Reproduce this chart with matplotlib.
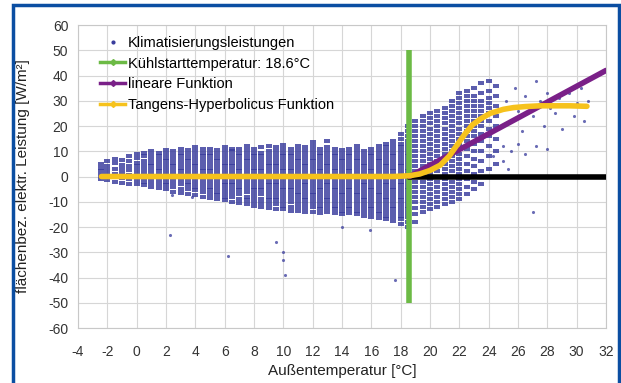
import numpy as np
import matplotlib
matplotlib.use('Agg')
import matplotlib.pyplot as plt
from matplotlib.lines import Line2D
from matplotlib.patches import Rectangle

plt.rcParams['font.family'] = ['Liberation Sans', 'DejaVu Sans']
plt.rcParams['axes.unicode_minus'] = False

# scatter columns (outdoor temperature) and the power values read in each column
col_x = [-2.4, -2.0, -1.5, -1.0, -0.5, 0.0, 0.5, 1.0, 1.5, 2.0, 2.5, 3.0, 3.5, 4.0, 4.5,
         5.0, 5.5, 6.0, 6.5, 7.0, 7.5, 8.0, 8.5, 9.0, 9.5, 10.0, 10.5, 11.0, 11.5, 12.0,
         12.5, 13.0, 13.5, 14.0, 14.5, 15.0, 15.5, 16.0, 16.5, 17.0, 17.5, 18.0, 18.5,
         19.0, 19.5, 20.0, 20.5, 21.0, 21.5, 22.0, 22.5, 23.0, 23.5, 24.0, 24.5]
col_y = [
    [0.5, 2, 3.5, 5, -1],
    [-1.5, 0.8, 2.5, 4.2, 6],
    [-2, 1, 3, 5.5, 7],
    [-2.5, -0.5, 1.5, 3, 4.5, 6.5],
    [-3, -1, 0.5, 2.5, 4, 6, 8],
    [-3, -1.5, 1, 2.5, 4, 5.5, 7.5, 9],
    [-3.5, -2, -0.5, 1.5, 3, 4.5, 6, 8, 9.5],
    [-4, -2.5, -1, 1, 2.5, 4, 5.5, 7, 8.5, 10],
    [-4.5, -3, -1.5, 0.5, 2, 3.5, 5, 6.5, 8, 9.5],
    [-5, -3.5, -2, -0.5, 1.5, 3, 4.5, 6, 7.5, 9, 10.5],
    [-6, -4, -2.5, -1, 1, 2.5, 4, 5.5, 7, 8.5, 10],
    [-6.5, -5, -3, -1.5, 0.5, 2, 3.5, 5, 6.5, 8, 9.5, 11],
    [-7, -5, -3.5, -2, -0.5, 1.5, 3, 4.5, 6, 7.5, 9, 10.5],
    [-7.5, -5.5, -4, -2.5, -1, 1, 2.5, 4, 5.5, 7, 8.5, 10, 11.5],
    [-8, -6, -4.5, -3, -1.5, 0.5, 2, 3.5, 5, 6.5, 8, 9.5, 11],
    [-8.5, -7, -5.5, -4, -2.5, -1, 0.5, 2, 3.5, 5, 6.5, 8, 9.5, 11],
    [-9, -7.5, -6, -4.5, -3, -1.5, 0, 1.5, 3, 4.5, 6, 7.5, 9, 10.5],
    [-9.5, -8, -6.5, -5, -3.5, -2, -0.5, 1, 2.5, 4, 5.5, 7, 8.5, 10, 11.5],
    [-10, -8, -6.5, -5, -3.5, -2, -0.5, 1, 2.5, 4, 5.5, 7, 8.5, 10, 11],
    [-10.5, -9, -7, -5.5, -4, -2.5, -1, 0.5, 2, 3.5, 5, 6.5, 8, 9.5, 11],
    [-11, -9.5, -8, -6, -4.5, -3, -1.5, 0, 1.5, 3, 4.5, 6, 7.5, 9, 10.5, 12],
    [-11.5, -10, -8.5, -7, -5.5, -4, -2.5, -1, 0.5, 2, 3.5, 5, 6.5, 8, 9.5, 11],
    [-12, -10.5, -9, -7, -5.5, -4, -2.5, -1, 0.5, 2, 3.5, 5, 6.5, 8, 9.5, 11.5],
    [-12.5, -11, -9.5, -8, -6.5, -5, -3.5, -2, -0.5, 1, 2.5, 4, 5.5, 7, 8.5, 10, 12],
    [-13, -11, -9.5, -8, -6.5, -5, -3.5, -2, -0.5, 1, 2.5, 4, 5.5, 7, 8.5, 10, 11.5],
    [-13, -11.5, -10, -8.5, -7, -5.5, -4, -2.5, -1, 0.5, 2, 3.5, 5, 6.5, 8, 9.5, 11, 12.5],
    [-13.5, -12, -10, -8.5, -7, -5.5, -4, -2.5, -1, 0.5, 2, 3.5, 5, 6.5, 8, 9.5, 11],
    [-13.5, -12, -10.5, -9, -7.5, -6, -4.5, -3, -1.5, 0, 1.5, 3, 4.5, 6, 7.5, 9, 10.5, 12],
    [-14, -12.5, -11, -9.5, -8, -6.5, -5, -3.5, -2, -0.5, 1, 2.5, 4, 5.5, 7, 8.5, 10, 11.5],
    [-14, -12, -10.5, -9, -7.5, -6, -4.5, -3, -1.5, 0, 1.5, 3, 4.5, 6, 7.5, 9, 10.5, 12, 13.5],
    [-14.5, -13, -11.5, -10, -8.5, -7, -5.5, -4, -2.5, -1, 0.5, 2, 3.5, 5, 6.5, 8, 9.5, 11],
    [-14, -12.5, -11, -9.5, -8, -6.5, -5, -3.5, -2, -0.5, 1, 2.5, 4, 5.5, 7, 8.5, 10, 11.5, 14],
    [-14.5, -13, -11.5, -10, -8.5, -7, -5.5, -4, -2.5, -1, 0.5, 2, 3.5, 5, 6.5, 8, 9.5, 11],
    [-15, -13.5, -12, -10.5, -9, -7.5, -6, -4.5, -3, -1.5, 0, 1.5, 3, 4.5, 6, 7.5, 9, 10.5],
    [-14.5, -13, -11.5, -10, -8.5, -7, -5.5, -4, -2.5, -1, 0.5, 2, 3.5, 5, 6.5, 8, 9.5, 11],
    [-15, -13.5, -12, -10.5, -9, -7.5, -6, -4.5, -3, -1.5, 0, 1.5, 3, 4.5, 6, 7.5, 9, 10.5, 12],
    [-15.5, -14, -12.5, -11, -9.5, -8, -6.5, -5, -3.5, -2, -0.5, 1, 2.5, 4, 5.5, 7, 8.5, 10],
    [-16, -14.5, -13, -11.5, -10, -8.5, -7, -5.5, -4, -2.5, -1, 0.5, 2, 3.5, 5, 6.5, 8, 9.5, 11],
    [-16.5, -15, -13.5, -12, -10.5, -9, -7.5, -6, -4.5, -3, -1.5, 0, 1.5, 3, 4.5, 6, 7.5, 9, 10.5, 12],
    [-17, -15.5, -14, -12.5, -11, -9.5, -8, -6.5, -5, -3.5, -2, -0.5, 1, 2.5, 4, 5.5, 7, 8.5, 10, 11.5, 13],
    [-17.5, -16, -14.5, -13, -11.5, -10, -8.5, -7, -5.5, -4, -2.5, -1, 0.5, 2, 3.5, 5, 6.5, 8, 9.5, 11, 12.5, 14],
    [-19, -17, -15.5, -14, -12.5, -11, -9.5, -8, -6.5, -5, -3.5, -2, -0.5, 1, 2.5, 4, 5.5, 7, 8.5, 10, 11.5, 13, 15, 17],
    [-20, -18, -16, -14.5, -13, -11.5, -10, -8.5, -7, -5.5, -4, -2.5, -1, 0.5, 2, 3.5, 5, 6.5, 8, 9.5, 11, 12.5, 14, 16, 18, 20],
    [-18, -15, -12.5, -10, -8, -6, -4, -2, 0, 2, 4, 6, 8, 10, 12, 14, 16, 18, 20, 22],
    [-14, -12, -10, -8, -6, -4, -2, 0, 2, 4, 6, 8, 10, 12, 14, 16, 18, 20, 22, 24],
    [-13, -11, -9, -7, -5, -3, -1, 1, 3, 5, 7, 9, 11, 13, 15, 17, 19, 21, 23, 25],
    [-12, -10, -8, -6, -4, -2, 0, 2, 4, 6, 8, 10, 12, 14, 16, 18, 20, 22, 24, 26],
    [-11, -9, -7, -5, -3, -1, 1, 3, 5, 7, 9, 11, 13, 15, 17, 19, 21, 23, 25, 27],
    [-10, -8, -6, -4, -2, 0, 2, 4, 6, 8, 10, 12, 14, 16, 18, 20, 22, 24, 26, 28, 30],
    [-9, -7, -5, -3, -1, 1, 3, 5, 7, 9, 11, 13, 15, 17, 19, 21, 23, 25, 27, 29, 31, 33],
    [-7, -4, -1, 2, 5, 8, 11, 14, 16, 18, 20, 22, 24, 26, 28, 30, 32, 34],
    [-5, -2, 1, 4, 7, 10, 13, 16, 18, 20, 22, 24, 26, 28, 30, 32, 35],
    [-3, 2, 6, 10, 14, 17, 20, 22, 24, 26, 28, 30, 33, 37],
    [3, 8, 12, 16, 19, 22, 25, 27, 29, 31, 34, 38],
    [5, 10, 15, 20, 24, 28, 32, 36],
]

# single scattered points (warm days and outliers)
extra_x = [24.3, 25.0, 25.0, 25.2, 25.3, 25.5, 25.5, 25.8, 26.0, 26.0, 26.3, 26.5, 26.5, 26.8,
           27.0, 27.2, 27.2, 27.5, 27.8, 28.0, 28.0, 28.2, 28.5, 28.8, 29.0, 29.3, 29.5,
           29.8, 30.0, 30.3, 30.5, 30.8, 27.0,
           2.3, 2.4, 3.8, 6.2, 9.5, 10.0, 10.0, 10.1, 14.0, 15.9, 17.6]
extra_y = [8, 6, 12, 30, 3, 22, 10, 35, 26, 13, 18, 32, 9, 28,
           24, 38, 12, 30, 20, 33, 11, 27, 25, 31, 19, 28, 33,
           24, 29, 35, 22, 30, -14,
           -23, -7.5, -8, -31.5, -26, -30, -33, -39, -20, -21, -41]

# model curves
start_temp = 18.6
lin_x = [18.6, 32]
lin_y = [0, 42]
zero_x = [18.6, 32]
zero_y = [0, 0]
tanh_x = [-2.4, 17.5, 18.6, 19.3, 20.0, 20.7, 21.3, 21.85, 22.4, 22.9, 23.5, 24.1,
          25.0, 25.7, 26.5, 27.5, 28.5, 29.5, 30.7]
tanh_y = [0, 0, 0.3, 1.0, 2.4, 4.5, 8, 12.5, 17, 20.5, 23, 25,
          26.6, 27.3, 27.7, 28, 28, 28, 27.8]

sx = np.concatenate([[x] * len(ys) for x, ys in zip(col_x, col_y)])
sy = np.concatenate([np.array(ys, dtype=float) for ys in col_y])

fig = plt.figure(figsize=(6.21, 3.83), dpi=100)
ax = fig.add_axes([0.1256, 0.1436, 0.8502, 0.7911])

dot_color = '#383b9c'
flat_box = [(-1, -0.85), (1, -0.85), (1, 0.85), (-1, 0.85), (-1, -0.85)]
ax.scatter(sx, sy, s=17, marker=flat_box, color=dot_color, alpha=0.82, linewidths=0,
           zorder=2)
ax.scatter(extra_x, extra_y, s=5, color=dot_color, alpha=0.75, linewidths=0, zorder=2)
ax.plot([start_temp, start_temp], [-50, 50], color='#6cba45', lw=4, zorder=3,
        solid_capstyle='butt')
ax.plot(zero_x, zero_y, color='black', lw=4, zorder=4, solid_capstyle='round')
ax.plot(lin_x, lin_y, color='#7a2088', lw=4, zorder=5, solid_capstyle='round')
ax.plot(tanh_x, tanh_y, color='#f6c21c', lw=4, zorder=6, solid_capstyle='round')

ax.set_xlim(-4, 32)
ax.set_ylim(-60, 60)
ax.set_xticks(np.arange(-4, 33, 2))
ax.set_yticks(np.arange(-60, 61, 10))
ax.grid(True, color='#d6d6d6', lw=0.8)
ax.set_axisbelow(True)
for s in ax.spines.values():
    s.set_color('#c8c8c8')
ax.tick_params(length=0, labelsize=10, colors='#333333')
ax.tick_params(axis='y', pad=7)
ax.tick_params(axis='x', pad=12)
ax.set_xlabel('Außentemperatur [°C]', fontsize=11, color='#222222')
ax.set_ylabel('flächenbez. elektr. Leistung [W/m²]', fontsize=11, color='#222222')
ax.xaxis.set_label_coords(0.5, -0.12)
ax.yaxis.set_label_coords(-0.09, 0.5)

handles = [
    Line2D([], [], ls='none', marker='o', ms=2, color=dot_color),
    Line2D([], [], color='#6cba45', lw=2.5, marker='D', ms=3),
    Line2D([], [], color='#7a2088', lw=2.5, marker='D', ms=3),
    Line2D([], [], color='#f6c21c', lw=2.5, marker='D', ms=3),
]
labels = ['Klimatisierungsleistungen', 'Kühlstarttemperatur: 18.6°C',
          'lineare Funktion', 'Tangens-Hyperbolicus Funktion']
ax.legend(handles, labels, loc='upper left', bbox_to_anchor=(0.031, 0.983), frameon=False,
          fontsize=10.5, handlelength=1.7, handletextpad=0.2, labelspacing=0.45,
          borderaxespad=0)

fig.patches.append(Rectangle((13 / 621, -0.05), (606 / 621), 1 - 5 / 383 + 0.05,
                             transform=fig.transFigure, fill=False,
                             edgecolor='#0b4ea2', lw=2.5))

fig.savefig('out.png', dpi=100)
